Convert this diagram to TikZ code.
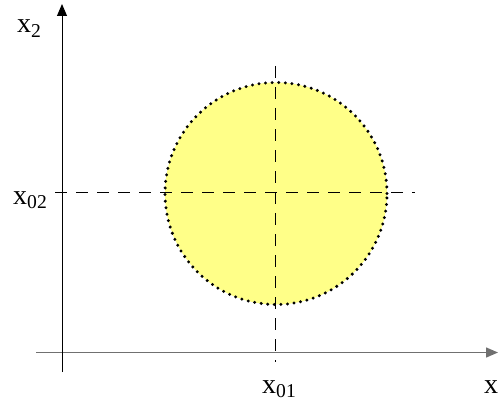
\documentclass[tikz,border=0pt]{standalone}
\usepackage{fontspec}
\setmainfont{Liberation Serif}
\usetikzlibrary{arrows.meta, positioning}
\definecolor{diskYellow}{HTML}{FFFF88}
\definecolor{axisGrey}{HTML}{707070}
\tikzset{
  axisline/.style  = {-{Triangle[length=12pt, width=10pt]}, line width=1pt},
  guideline/.style = {line width=0.9pt, dash pattern=on 12pt off 9pt},
  diskline/.style  = {fill=diskYellow, line width=3.3pt, line cap=round,
                      dash pattern=on 0pt off 6.6pt},
  lbl/.style       = {font=\fontsize{28}{32}\selectfont, inner sep=0pt},
}

\begin{document}
\begin{tikzpicture}[x=1pt, y=1pt]
  \useasboundingbox (0,0) rectangle (500,405);

  % disk around (x01,x02)
  \coordinate (c) at (276,211.5);
  \draw[diskline] (c) circle[radius=111];

  % axes
  \coordinate (xstart) at (36,52.5);
  \coordinate (xend)   at (498,52.5);
  \coordinate (ystart) at (62,33);
  \coordinate (yend)   at (62,401);
  \draw[axisline, axisGrey, line width=1.4pt] (xstart) -- (xend);
  \draw[axisline] (ystart) -- (yend);

  % guides through the centre
  \coordinate (hl) at (55,212.5);  \coordinate (hr) at (415,212.5);
  \coordinate (vt) at (275,339);   \coordinate (vb) at (275,43);
  \draw[guideline] (hl) -- (hr);
  \draw[guideline] (vt) -- (vb);

  \node[lbl, anchor=base west] (lx2)  at (17,372) {x\textsubscript{2}};
  \node[lbl, anchor=base west] (lx02) at (13,201) {x\textsubscript{02}};
  \node[lbl, anchor=base west] (lx01) at (262,12) {x\textsubscript{01}};
  \node[lbl, anchor=base west] (lx)   at (484,12) {x};
\end{tikzpicture}
\end{document}
